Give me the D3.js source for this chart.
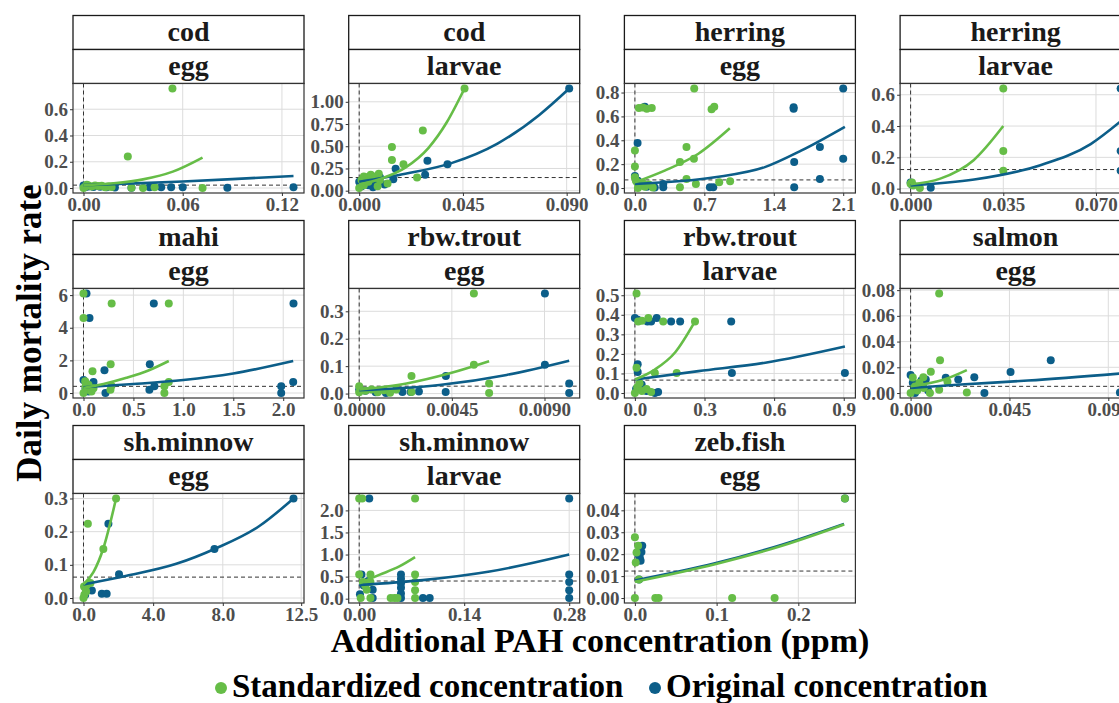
<!DOCTYPE html>
<meta charset="utf-8">
<script src="https://d3js.org/d3.v7.min.js"></script>
<style>
  body { margin: 0; background: #fff; }
  text { font-family: "Liberation Serif", "Times New Roman", serif; font-weight: bold; }
</style>
<div id="my_dataviz"></div>
<script>

// each panel: std = standardized concentration points, orig = original concentration points,
// stdFit / origFit = fitted curves, control = dashed control mortality
var codEgg = {
  std: [[0.0538,0.758],[0.0268,0.24],[0.036,0],[0.043,0.005],[0.072,0],[0.029,0.003],[0.001,0.01],[0.003,0.02],[0.005,0.012],[0.007,0.02],[0.009,0.015],[0.011,0.018],[0.013,0.005],[0.015,0.012],[0.017,0.008],[0.002,0.025],[0,0]],
  orig: [[0.127,0.005],[0.087,0.002],[0.060,0.006],[0.053,0.005],[0.047,0.006],[0.040,0.005],[0.029,0.003],[0.019,0.004],[0.014,0.006],[0.010,0.01],[0.006,0.008],[0.003,0.012],[0,0.02],[0.001,0.005]],
  stdFit: [[0,0.02],[0.018,0.036],[0.036,0.066],[0.054,0.125],[0.072,0.232]],
  origFit: [[0,0.022],[0.03,0.035],[0.06,0.05],[0.09,0.068],[0.127,0.092]],
  control: 0.022,
  xTicks: ["0.00","0.06","0.12"], yTicks: ["0.0","0.2","0.4","0.6"]
};
var codLarvae = {
  std: [[0.0457,1.15],[0.0276,0.676],[0.0142,0.492],[0.0142,0.344],[0.0192,0.297],[0.0251,0.148],[0.0123,0.082],[0.001,0.12],[0.002,0.06],[0.003,0.15],[0.004,0.1],[0.005,0.18],[0.006,0.14],[0.007,0.16],[0.008,0.05],[0.009,0.12],[0,0.03],[0.002,0.16],[0.0085,0.19]],
  orig: [[0.0911,1.15],[0.0383,0.297],[0.0296,0.336],[0.0286,0.18],[0.0158,0.246],[0.0148,0.129],[0.001,0.05],[0.002,0.1],[0.003,0.14],[0.004,0.06],[0.005,0.12],[0.006,0.04],[0.007,0.09],[0.009,0.15],[0,0.1],[0.011,0.07]],
  stdFit: [[0,0.07],[0.01,0.14],[0.02,0.26],[0.03,0.48],[0.038,0.77],[0.0457,1.15]],
  origFit: [[0,0.1],[0.02,0.19],[0.04,0.31],[0.06,0.53],[0.078,0.85],[0.0911,1.15]],
  control: 0.148,
  xTicks: ["0.000","0.045","0.090"], yTicks: ["0.00","0.25","0.50","0.75","1.00"]
};
var herringEgg = {
  std: [[0.598,0.834],[0.04,0.67],[0.08,0.675],[0.12,0.665],[0.17,0.67],[0.773,0.66],[0.8,0.68],[0.52,0.344],[0.595,0.245],[0.454,0.217],[0.52,0.076],[0.454,0.006],[0.615,0.034],[0.85,0.048],[0.96,0.056],[0,0.315],[0,0.18],[0,0.09],[0.02,0.05],[0.05,0.02],[0.08,0.04],[0.1,0.01],[0.14,0.03],[0.18,0.005],[0.03,0],[0.01,0.06]],
  orig: [[2.1,0.834],[1.6,0.676],[1.6,0.665],[1.865,0.344],[2.1,0.245],[1.606,0.217],[1.865,0.076],[1.606,0.006],[0.756,0.006],[0.79,0.006],[0.286,0.034],[0.286,0.006],[0.1,0.68],[0.027,0.377],[0,0.1],[0.05,0.03],[0.12,0.01],[0.2,0.005],[0.15,0.02],[0.03,0.06]],
  stdFit: [[0,0.048],[0.3,0.146],[0.64,0.287],[0.957,0.5]],
  origFit: [[0,0.034],[0.806,0.09],[1.31,0.175],[1.68,0.315],[2.117,0.513]],
  control: 0.068,
  xTicks: ["0.0","0.7","1.4","2.1"], yTicks: ["0.0","0.2","0.4","0.6","0.8"]
};
var herringLarvae = {
  std: [[0.035,0.64],[0.035,0.24],[0.035,0.114],[0,0.032],[0.0035,0.004],[0.0005,0.04],[0.001,0.02]],
  orig: [[0.0793,0.64],[0.0793,0.24],[0.0793,0.114],[0,0.039],[0.0076,0.006],[0.0005,0.025]],
  stdFit: [[0,0.028],[0.0112,0.064],[0.0238,0.182],[0.035,0.40]],
  origFit: [[0,0.021],[0.024,0.058],[0.049,0.15],[0.068,0.285],[0.0793,0.43]],
  control: 0.122,
  xTicks: ["0.000","0.035","0.070"], yTicks: ["0.0","0.2","0.4","0.6"]
};
var mahiEgg = {
  std: [[0,6.1],[0.282,5.48],[0.854,5.48],[0,4.59],[0.09,1.34],[0.272,1.76],[0.854,0.68],[0.81,0.41],[0.81,0],[0.27,0.2],[0.017,0.72],[0.03,0.2],[0.05,0.5],[0.08,0.1],[0.1,0.3],[0,0],[0.02,0.4],[0.28,0.45]],
  orig: [[0.03,6.1],[0.704,5.48],[2.103,5.48],[0.06,4.59],[0.21,1.4],[0.664,1.76],[2.1,0.68],[1.98,0.41],[1.98,0],[0.66,0.2],[0.71,0.41],[0.22,0],[0.1,0.68],[0.02,0.3],[0.05,0.1],[0.08,0.5],[0,0.8]],
  stdFit: [[0,0.31],[0.2,0.55],[0.43,0.93],[0.65,1.38],[0.854,1.96]],
  origFit: [[0,0.35],[0.5,0.55],[1.0,0.8],[1.5,1.2],[2.1,1.96]],
  control: 0.41,
  xTicks: ["0.0","0.5","1.0","1.5","2.0"], yTicks: ["0","2","4","6"]
};
var rbwTroutEgg = {
  std: [[0.00557,0.365],[0.00557,0.105],[0.00254,0.064],[0.00631,0.037],[0.00631,0.0025],[0.00254,0.006],[0,0.027],[0.0003,0.01],[0.0006,0.015],[0.0009,0.005],[0.0012,0.012],[0.0015,0.003],[0.0018,0.015],[0,0.005]],
  orig: [[0.00902,0.365],[0.00902,0.105],[0.00421,0.064],[0.0102,0.037],[0.0102,0.0025],[0.0042,0.006],[0.0021,0.006],[0.0025,0.006],[0.0029,0.008],[0.0003,0.01],[0.0008,0.005],[0.0013,0.002],[0,0.015]],
  stdFit: [[0,0.015],[0.0023,0.037],[0.0044,0.074],[0.00631,0.118]],
  origFit: [[0,0.012],[0.0039,0.031],[0.00716,0.068],[0.0102,0.12]],
  control: 0.027,
  xTicks: ["0.0000","0.0045","0.0090"], yTicks: ["0.0","0.1","0.2","0.3"]
};
var rbwTroutLarvae = {
  std: [[0.007,0.509],[0.014,0.366],[0.058,0.383],[0.122,0.366],[0.259,0.366],[0.03,0.37],[0.007,0.129],[0.086,0.103],[0.18,0.103],[0.01,0.03],[0.03,0.01],[0.05,0.02],[0.07,0.005],[0,0],[0.02,0.05]],
  orig: [[0,0.383],[0.012,0.375],[0.054,0.366],[0.07,0.366],[0.094,0.383],[0.156,0.366],[0.195,0.366],[0.415,0.366],[0.012,0.147],[0.012,0.107],[0.418,0.103],[0.905,0.103],[0.029,0.043],[0.086,0],[0.005,0.02],[0.05,0.01],[0.1,0.005]],
  stdFit: [[0,0.069],[0.086,0.12],[0.173,0.207],[0.259,0.366]],
  origFit: [[0,0.069],[0.274,0.112],[0.562,0.155],[0.905,0.238]],
  control: 0.066,
  xTicks: ["0.0","0.3","0.6","0.9"], yTicks: ["0.0","0.1","0.2","0.3","0.4","0.5"]
};
var salmonEgg = {
  std: [[0.013,0.0774],[0.0134,0.0254],[0.0092,0.0165],[0.0058,0.0123],[0.0256,0.0005],[0.013,0.0026],[0.0168,0.0087],[0.0088,0],[0.002,0.005],[0.004,0.008],[0.001,0.012],[0.003,0.002],[0,0],[0.006,0.004]],
  orig: [[0.0638,0.0254],[0.0455,0.0163],[0.029,0.0123],[0.0217,0.0105],[0.016,0.0118],[0.0069,0.0105],[0.0336,0],[0.0953,0.0005],[0,0.014],[0.001,0.008],[0.003,0.004],[0.005,0.01],[0.002,0],[0.008,0.002]],
  stdFit: [[0,0.0052],[0.0153,0.0105],[0.0256,0.0178]],
  origFit: [[0,0.0039],[0.0229,0.0066],[0.0534,0.0097],[0.0956,0.0152]],
  control: 0.0052,
  xTicks: ["0.000","0.045","0.090"], yTicks: ["0.00","0.02","0.04","0.06","0.08"]
};
var shMinnowEgg = {
  std: [[1.87,0.3],[0.25,0.224],[1.14,0.148],[0.4,0.045],[0.1,0.03],[0.05,0.01],[0,0],[0.15,0.02],[0.2,0.04],[0.03,0.035]],
  orig: [[12.06,0.3],[1.43,0.224],[7.52,0.148],[2.04,0.072],[0.48,0.023],[1.05,0.013],[1.33,0.013],[0.1,0.01]],
  stdFit: [[0,0.041],[0.57,0.078],[1.14,0.15],[1.87,0.3]],
  origFit: [[0,0.041],[2.48,0.067],[5.33,0.103],[7.62,0.15],[10.1,0.217],[12.06,0.3]],
  control: 0.063,
  xTicks: ["0.0","4.0","8.0","12.5"], yTicks: ["0.0","0.1","0.2","0.3"]
};
var shMinnowLarvae = {
  std: [[0,2.27],[0.004,2.27],[0.0745,2.27],[0.0745,0.55],[0.0745,0.38],[0.0745,0.19],[0.0745,0.015],[0.042,0.015],[0.047,0.015],[0.051,0.015],[0,0.55],[0.005,0.38],[0.01,0.2],[0.015,0.55],[0.015,0.38],[0.015,0.015],[0.002,0.015],[0.008,0.3]],
  orig: [[0.0134,2.27],[0.28,2.27],[0.28,0.55],[0.28,0.38],[0.28,0.19],[0.28,0.015],[0.0557,0.55],[0.0557,0.45],[0.0557,0.35],[0.0557,0.25],[0.0557,0.12],[0.0557,0.015],[0.085,0.015],[0.094,0.015],[0.003,0.55],[0.006,0.3],[0.018,0.2],[0.018,0.015],[0.012,0.4],[0.001,0.1]],
  stdFit: [[0,0.35],[0.0267,0.54],[0.0535,0.73],[0.0745,0.94]],
  origFit: [[0,0.31],[0.0847,0.42],[0.174,0.615],[0.28,1.0]],
  control: 0.4,
  xTicks: ["0.00","0.14","0.28"], yTicks: ["0.0","0.5","1.0","1.5","2.0"]
};
var zebFishEgg = {
  std: [[0.257,0.0454],[0,0.0277],[0.004,0.0238],[0.002,0.0208],[0.001,0.0162],[0.005,0.0085],[0,0],[0.025,0],[0.029,0],[0.119,0],[0.171,0]],
  orig: [[0.257,0.0454],[0.009,0.0238],[0.006,0.0185],[0.004,0.02],[0.005,0.0085],[0.008,0.021],[0.007,0.017]],
  stdFit: [[0,0.0074],[0.098,0.0154],[0.18,0.0238],[0.256,0.0335]],
  origFit: [[0,0.008],[0.098,0.0158],[0.18,0.0243],[0.256,0.0338]],
  control: 0.0123,
  xTicks: ["0.0","0.1","0.2"], yTicks: ["0.00","0.01","0.02","0.03","0.04"]
};

var species = ["cod","cod","herring","herring","mahi","rbw.trout","rbw.trout","salmon","sh.minnow","sh.minnow","zeb.fish"];
var stages  = ["egg","larvae","egg","larvae","egg","egg","larvae","egg","egg","larvae","egg"];
var panelData = [codEgg, codLarvae, herringEgg, herringLarvae, mahiEgg, rbwTroutEgg, rbwTroutLarvae, salmonEgg, shMinnowEgg, shMinnowLarvae, zebFishEgg];

var groups = ["Standardized concentration", "Original concentration"];
var colors = {std: "#66bd47", orig: "#0c5e89"};

// layout
var width = 1119, height = 703;
var colLeft = 73, colStep = 275.7, rowTop = 15.5, rowStep = 205;
var panelW = 231, stripH = 34, panelH = 109.5;

var svg = d3.select("#my_dataviz")
  .append("svg")
    .attr("width", width)
    .attr("height", height);

var line = d3.line()
  .x(function(d) { return d[0]; })
  .y(function(d) { return d[1]; })
  .curve(d3.curveMonotoneX);

panelData.forEach(function(p, i) {
  var col = i % 4, row = Math.floor(i / 4);
  var g = svg.append("g")
    .attr("transform", "translate(" + (colLeft + col * colStep) + "," + (rowTop + row * rowStep) + ")");

  // strips
  [species[i], stages[i]].forEach(function(label, k) {
    g.append("rect")
      .attr("x", 0).attr("y", k * stripH)
      .attr("width", panelW).attr("height", stripH)
      .attr("fill", "white").attr("stroke", "#1a1a1a").attr("stroke-width", 1.3);
    g.append("text")
      .attr("x", panelW / 2).attr("y", k * stripH + 25)
      .attr("text-anchor", "middle")
      .style("font-size", "28px")
      .attr("fill", "#1a1a1a")
      .text(label);
  });

  var pg = g.append("g").attr("transform", "translate(0," + (2 * stripH) + ")");

  // scales with ggplot-like 5% expansion
  var all = p.std.concat(p.orig, p.stdFit, p.origFit);
  var xe = d3.extent(all, function(d) { return d[0]; });
  var ye = d3.extent(all, function(d) { return d[1]; });
  var xr = xe[1] - xe[0], yr = ye[1] - ye[0];
  var x = d3.scaleLinear().domain([xe[0] - 0.05 * xr, xe[1] + 0.05 * xr]).range([0, panelW]);
  var y = d3.scaleLinear().domain([ye[0] - 0.05 * yr, ye[1] + 0.05 * yr]).range([panelH, 0]);

  var xVals = p.xTicks.map(Number), yVals = p.yTicks.map(Number);

  pg.append("rect")
    .attr("width", panelW).attr("height", panelH)
    .attr("fill", "white");

  // grid
  pg.selectAll(".gx").data(xVals).enter().append("line")
    .attr("x1", function(d) { return x(d); }).attr("x2", function(d) { return x(d); })
    .attr("y1", 0).attr("y2", panelH)
    .attr("stroke", "#dcdcdc").attr("stroke-width", 1);
  pg.selectAll(".gy").data(yVals).enter().append("line")
    .attr("y1", function(d) { return y(d); }).attr("y2", function(d) { return y(d); })
    .attr("x1", 0).attr("x2", panelW)
    .attr("stroke", "#dcdcdc").attr("stroke-width", 1);

  // reference dashed lines
  pg.append("line")
    .attr("x1", x(0)).attr("x2", x(0)).attr("y1", 0).attr("y2", panelH)
    .attr("stroke", "#333").attr("stroke-dasharray", "4,3");
  pg.append("line")
    .attr("x1", 0).attr("x2", panelW).attr("y1", y(p.control)).attr("y2", y(p.control))
    .attr("stroke", "#333").attr("stroke-dasharray", "4,3");

  // points: original first, standardized on top
  ["orig", "std"].forEach(function(key) {
    pg.append("g").selectAll("circle")
      .data(p[key]).enter().append("circle")
        .attr("cx", function(d) { return x(d[0]); })
        .attr("cy", function(d) { return y(d[1]); })
        .attr("r", 4)
        .attr("fill", colors[key]);
  });

  // fitted curves
  ["origFit", "stdFit"].forEach(function(key) {
    pg.append("path")
      .datum(p[key].map(function(d) { return [x(d[0]), y(d[1])]; }))
      .attr("d", line)
      .attr("fill", "none")
      .attr("stroke", key == "stdFit" ? colors.std : colors.orig)
      .attr("stroke-width", 2.6);
  });

  pg.append("rect")
    .attr("width", panelW).attr("height", panelH)
    .attr("fill", "none").attr("stroke", "#333").attr("stroke-width", 1.2);

  // axes
  var xa = pg.append("g")
    .attr("transform", "translate(0," + panelH + ")")
    .call(d3.axisBottom(x).tickValues(xVals)
      .tickFormat(function(d, j) { return p.xTicks[j]; }).tickSize(3).tickPadding(2));
  var ya = pg.append("g")
    .call(d3.axisLeft(y).tickValues(yVals)
      .tickFormat(function(d, j) { return p.yTicks[j]; }).tickSize(3).tickPadding(2));
  [xa, ya].forEach(function(a) {
    a.select(".domain").remove();
    a.selectAll("line").attr("stroke", "#333");
    a.selectAll("text")
      .attr("fill", "#4d4d4d")
      .style("font-size", "19px")
      .style("font-family", "'Liberation Serif', 'Times New Roman', serif")
      .style("font-weight", "bold");
  });
});

// axis titles
svg.append("text")
  .attr("x", 600).attr("y", 652)
  .attr("text-anchor", "middle")
  .style("font-size", "34px")
  .text("Additional PAH concentration (ppm)");

svg.append("text")
  .attr("transform", "translate(41,333) rotate(-90)")
  .attr("text-anchor", "middle")
  .style("font-size", "35px")
  .text("Daily mortality rate");

// legend
var legendX = [221, 655];
groups.forEach(function(name, k) {
  var c = k == 0 ? colors.std : colors.orig;
  svg.append("circle")
    .attr("cx", legendX[k]).attr("cy", 688)
    .attr("r", 6)
    .attr("fill", c);
  svg.append("text")
    .attr("x", legendX[k] + 11).attr("y", 697)
    .style("font-size", "33px")
    .text(name);
});

</script>
